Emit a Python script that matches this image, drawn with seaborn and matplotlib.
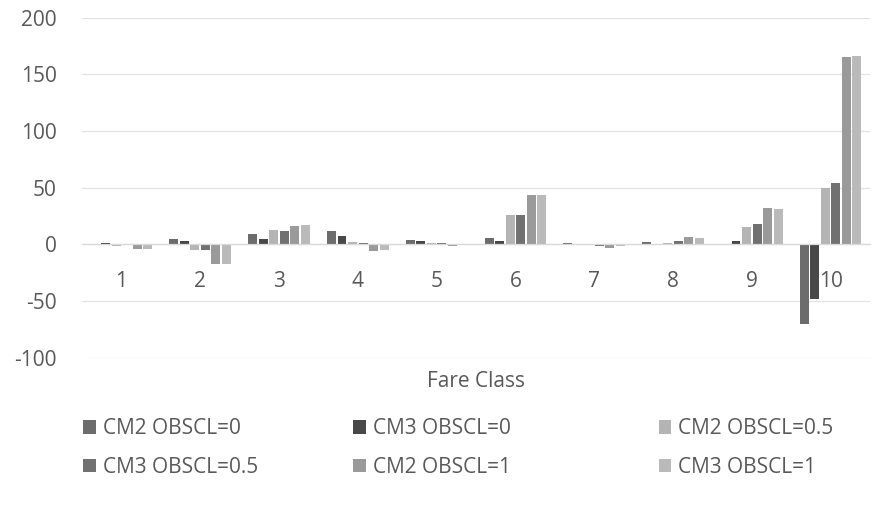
import matplotlib
matplotlib.use("Agg")
import matplotlib.pyplot as plt
from matplotlib.patches import Patch
import seaborn as sns
import pandas as pd

# Fare classes on the x axis
fare_classes = ["1", "2", "3", "4", "5", "6", "7", "8", "9", "10"]

# One list of values per model / OBSCL setting
cm2_obscl_0 = [0.5, 5, 9, 12, 4, 6, 1, 2, 0.5, -70]
cm3_obscl_0 = [1, 3.5, 5, 7.5, 3, 3, 0.3, 0.3, 3.5, -48]
cm2_obscl_05 = [-1, -5, 13, 2.5, 1.5, 26, 0.5, 1, 15, 50]
cm3_obscl_05 = [-0.5, -5, 12, 1.5, 1, 26, -1, 3, 18, 54]
cm2_obscl_1 = [-4, -17, 16, -5.5, -1, 44, -3, 7, 32, 165]
cm3_obscl_1 = [-4, -17, 17, -5, -0.5, 44, -1.5, 5.5, 31, 166]

series_names = ["CM2 OBSCL=0", "CM3 OBSCL=0", "CM2 OBSCL=0.5",
                "CM3 OBSCL=0.5", "CM2 OBSCL=1", "CM3 OBSCL=1"]
series_values = [cm2_obscl_0, cm3_obscl_0, cm2_obscl_05,
                 cm3_obscl_05, cm2_obscl_1, cm3_obscl_1]
colors = ["#6c6c6c", "#484848", "#b4b4b4", "#717171", "#9a9a9a", "#bababa"]

rows = []
for name, vals in zip(series_names, series_values):
    for fc, v in zip(fare_classes, vals):
        rows.append({"Fare Class": fc, "value": v, "series": name})
df = pd.DataFrame(rows)

sns.set_theme(style="white")
plt.rcParams["font.family"] = ["Open Sans", "DejaVu Sans"]
plt.rcParams["axes.unicode_minus"] = False

FS = 15
TEXT = "#595959"

fig = plt.figure(figsize=(8.77, 5.09), dpi=100)
ax = fig.add_axes([0.0935, 0.297, 0.8985, 0.668])

sns.barplot(data=df, x="Fare Class", y="value", hue="series",
            order=fare_classes, hue_order=series_names,
            palette=colors, width=0.8, gap=0.15, ax=ax,
            legend=False, errorbar=None, linewidth=0)

ax.set_ylim(-100, 200)
ax.set_yticks([-100, -50, 0, 50, 100, 150, 200])
ax.yaxis.grid(True, color="#e2e2e2", linewidth=0.9)
ax.set_axisbelow(True)
for side in ["top", "right", "left"]:
    ax.spines[side].set_visible(False)
ax.spines["bottom"].set_position(("data", 0))
ax.spines["bottom"].set_color("#d9d9d9")
ax.spines["bottom"].set_linewidth(0.9)

ax.tick_params(axis="x", length=0, pad=19, labelsize=FS, colors=TEXT)
ax.tick_params(axis="y", length=0, pad=18, labelsize=FS, colors=TEXT)
ax.set_ylabel("")
ax.set_xlabel("Fare Class", fontsize=FS, color=TEXT)
ax.xaxis.set_label_coords(0.5, -0.04)

# Legend laid out as three columns of two entries each
legend_cols = [(0.095, [0, 3]), (0.403, [1, 4]), (0.751, [2, 5])]
for x0, idxs in legend_cols:
    handles = [Patch(facecolor=colors[i], edgecolor="none") for i in idxs]
    labels = [series_names[i] for i in idxs]
    fig.legend(handles, labels, loc="upper left", bbox_to_anchor=(x0, 0.178),
               frameon=False, fontsize=FS, labelcolor=TEXT,
               handlelength=0.6, handleheight=0.6, handletextpad=0.35,
               labelspacing=0.85, borderpad=0, borderaxespad=0)

fig.savefig("out.png", dpi=100)
